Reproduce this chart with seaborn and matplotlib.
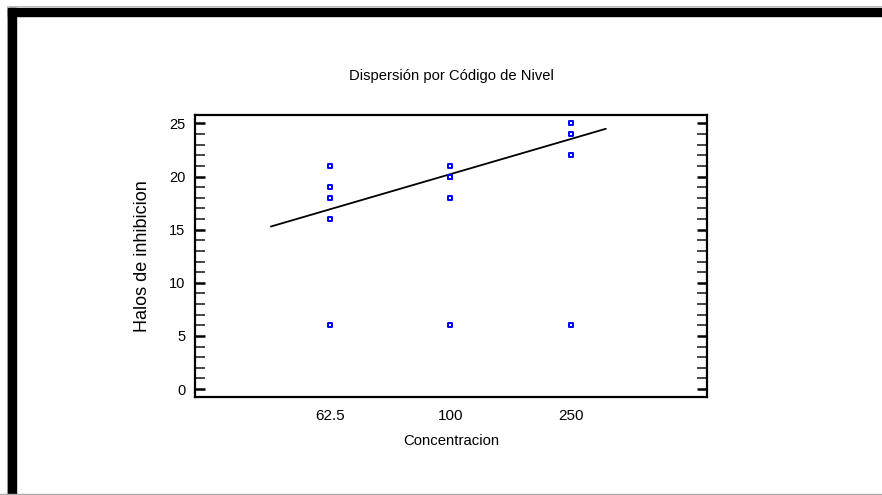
import matplotlib
matplotlib.use("Agg")
import matplotlib.pyplot as plt
from matplotlib.patches import Rectangle
from matplotlib.ticker import MultipleLocator
import pandas as pd
import seaborn as sns

# Concentration levels and inhibition halo measurements (mm)
levels = ["62.5", "100", "250"]
halos_62_5 = [21, 19, 18, 16, 6]
halos_100 = [21, 20, 20, 18, 6]
halos_250 = [25, 24, 22, 6]

# Fitted line endpoints, in level-code units
fit_level = [-0.49, 2.29]
fit_halo = [15.3, 24.5]

y_ticks = [0, 5, 10, 15, 20, 25]

df = pd.DataFrame({
    "Concentracion": (["62.5"] * len(halos_62_5) + ["100"] * len(halos_100)
                      + ["250"] * len(halos_250)),
    "Halos de inhibicion": halos_62_5 + halos_100 + halos_250,
})

sns.set_theme(style="white")
plt.rcParams["font.family"] = ["Liberation Sans", "DejaVu Sans"]

fig = plt.figure(figsize=(8.82, 4.95), dpi=100)
fig.patch.set_facecolor("white")
ax = fig.add_axes([0.2211, 0.198, 0.5805, 0.5697])

sns.stripplot(data=df, x="Concentracion", y="Halos de inhibicion", order=levels,
              jitter=False, marker="s", size=3.4, color="white",
              edgecolor="#0000ff", linewidth=1.4, ax=ax, zorder=3)
sns.lineplot(x=fit_level, y=fit_halo, color="black", linewidth=1.3, ax=ax,
             zorder=2)

ax.set_xlim(-1.12, 3.13)
ax.set_ylim(-0.75, 25.8)
ax.set_yticks(y_ticks)
ax.yaxis.set_minor_locator(MultipleLocator(1))

for side in ["left", "right", "top", "bottom"]:
    ax.spines[side].set_visible(True)
    ax.spines[side].set_color("black")
    ax.spines[side].set_linewidth(1.6)

ax.tick_params(axis="y", which="major", direction="in", left=True, right=True,
               length=7.5, width=1.8, pad=7, labelsize=10.5, colors="black")
ax.tick_params(axis="y", which="minor", direction="in", left=True, right=True,
               length=7.5, width=1.2)
ax.tick_params(axis="x", which="both", bottom=False, top=False, pad=2.5,
               labelsize=11, colors="black")

ax.set_xlabel("Concentracion", fontsize=10.7, labelpad=8, color="black")
ax.set_ylabel("Halos de inhibicion", fontsize=13, labelpad=13, color="black")
ax.set_title("Dispersión por Código de Nivel", fontsize=10.6, pad=25,
             color="black")

# Window frame around the chart
W, H = 882, 495
fig.patches.append(Rectangle((7 / W, 0), 1, 1 - 6 / H, transform=fig.transFigure,
                             fill=False, edgecolor="#bbbbbb", linewidth=0.8))
fig.patches.append(Rectangle((8 / W, 1 - 16 / H), 1, 8 / H,
                             transform=fig.transFigure, color="black"))
fig.patches.append(Rectangle((8 / W, 0), 8 / W, 1 - 8 / H,
                             transform=fig.transFigure, color="black"))
fig.patches.append(Rectangle((0, 0), 1, 1.5 / H, transform=fig.transFigure,
                             color="#aaaaaa"))

fig.savefig("out.png", dpi=100, facecolor="white")
